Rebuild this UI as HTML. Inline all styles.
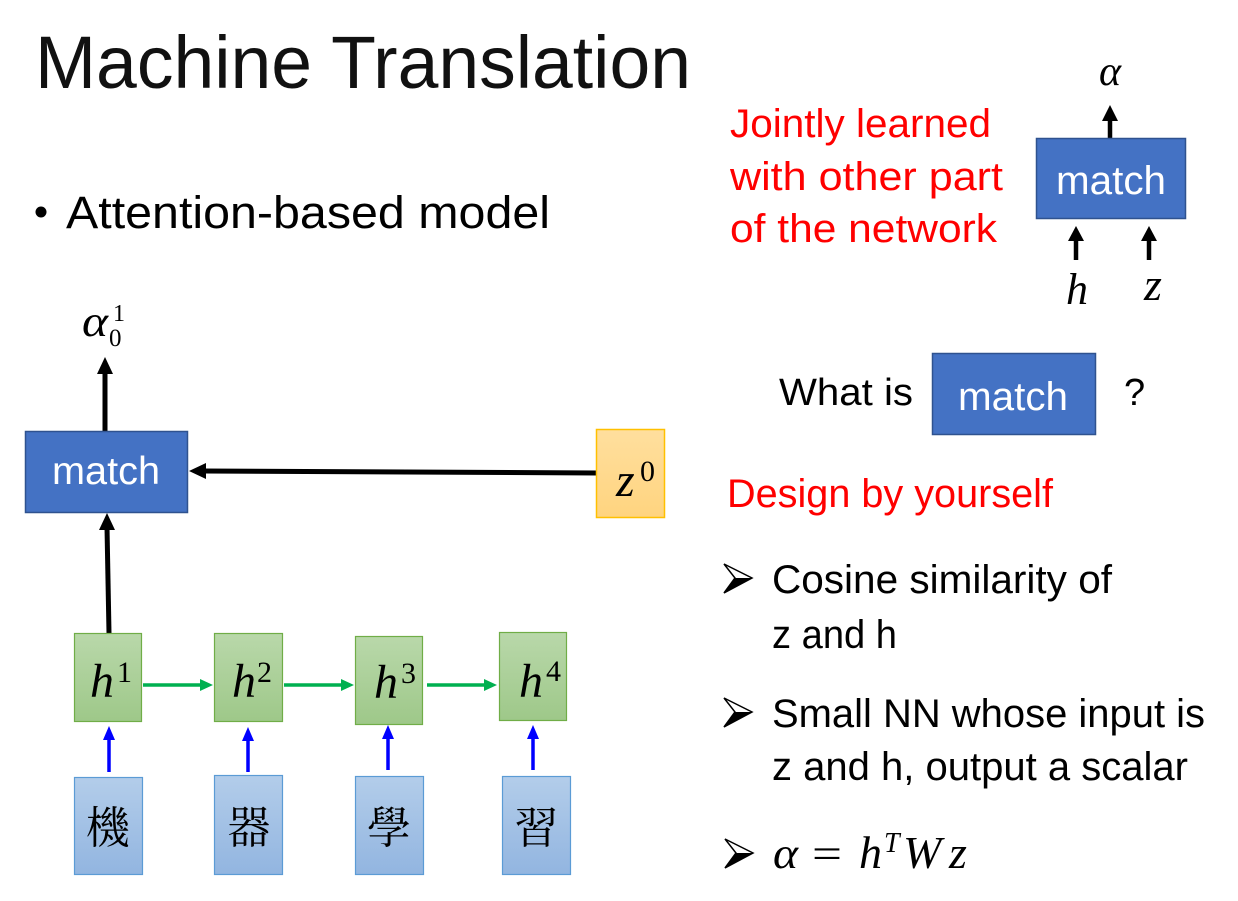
<!DOCTYPE html>
<html>
<head>
<meta charset="utf-8">
<style>
  html,body{margin:0;padding:0;background:#fff;}
  svg{display:block;}
  .sans{font-family:"Liberation Sans","Noto Sans CJK TC",sans-serif;}
  .math{font-family:"Liberation Serif","DejaVu Serif",serif;font-style:italic;}
  .num{font-family:"Liberation Serif","DejaVu Serif",serif;}
  .cjk{font-family:"Noto Serif CJK TC","Noto Serif CJK SC","Noto Sans CJK TC",serif;}
</style>
</head>
<body>
<svg width="1238" height="901" viewBox="0 0 1238 901" xmlns="http://www.w3.org/2000/svg">
  <defs>
    <linearGradient id="gG" x1="0" y1="0" x2="0" y2="1">
      <stop offset="0" stop-color="#b9d8aa"/>
      <stop offset="1" stop-color="#9ec889"/>
    </linearGradient>
    <linearGradient id="gB" x1="0" y1="0" x2="0" y2="1">
      <stop offset="0" stop-color="#b3cdea"/>
      <stop offset="1" stop-color="#92b5e0"/>
    </linearGradient>
    <linearGradient id="gO" x1="0" y1="0" x2="0" y2="1">
      <stop offset="0" stop-color="#ffdf9e"/>
      <stop offset="1" stop-color="#ffd47f"/>
    </linearGradient>
  </defs>

  <!-- Title -->
  <text class="sans" x="35" y="88" font-size="74" textLength="656" lengthAdjust="spacingAndGlyphs" fill="#111">Machine Translation</text>

  <!-- Bullet -->
  <circle cx="41" cy="212" r="5.5" fill="#000"/>
  <text class="sans" x="66" y="228" font-size="45" textLength="484" lengthAdjust="spacingAndGlyphs" fill="#000">Attention-based model</text>

  <!-- Red text top right -->
  <g class="sans" fill="#ff0000" font-size="40">
    <text x="730" y="137" textLength="261" lengthAdjust="spacingAndGlyphs">Jointly learned</text>
    <text x="730" y="190" textLength="273" lengthAdjust="spacingAndGlyphs">with other part</text>
    <text x="730" y="242" textLength="267" lengthAdjust="spacingAndGlyphs">of the network</text>
  </g>

  <!-- Top-right match diagram -->
  <text class="math" x="1110" y="85" font-size="42" text-anchor="middle" fill="#000">α</text>
  <line x1="1110" y1="138" x2="1110" y2="118" stroke="#000" stroke-width="4.5"/>
  <polygon points="1110,105 1102,121 1118,121" fill="#000"/>
  <rect x="1036.5" y="138.5" width="149" height="80" fill="#4472c4" stroke="#2f528f" stroke-width="1.5"/>
  <text class="sans" x="1111" y="194" font-size="40" text-anchor="middle" textLength="110" lengthAdjust="spacingAndGlyphs" fill="#fff">match</text>
  <line x1="1076" y1="260" x2="1076" y2="239" stroke="#000" stroke-width="4.5"/>
  <polygon points="1076,226 1068,241 1084,241" fill="#000"/>
  <line x1="1149" y1="260" x2="1149" y2="239" stroke="#000" stroke-width="4.5"/>
  <polygon points="1149,226 1141,241 1157,241" fill="#000"/>
  <text class="math" x="1077" y="304" font-size="44" text-anchor="middle" fill="#000">h</text>
  <text class="math" x="1153" y="300" font-size="46" text-anchor="middle" fill="#000">z</text>

  <!-- What is match ? -->
  <text class="sans" x="779" y="405" font-size="38" textLength="134" lengthAdjust="spacingAndGlyphs" fill="#000">What is</text>
  <rect x="932.5" y="353.5" width="163" height="81" fill="#4472c4" stroke="#2f528f" stroke-width="1.5"/>
  <text class="sans" x="1013" y="410" font-size="40" text-anchor="middle" textLength="110" lengthAdjust="spacingAndGlyphs" fill="#fff">match</text>
  <text class="sans" x="1124" y="405" font-size="38" fill="#000">?</text>

  <!-- Design by yourself -->
  <text class="sans" x="727" y="507" font-size="40" textLength="326" lengthAdjust="spacingAndGlyphs" fill="#ff0000">Design by yourself</text>

  <!-- Arrow bullets -->
  <g>
    <polygon points="724,564 752,578 724,593 735,578" fill="#fff" stroke="#000" stroke-width="1.5" stroke-linejoin="miter"/>
    <polygon points="735,578 752,578 724,593" fill="#000"/>
    <polygon points="724,698 752,712 724,727 735,712" fill="#fff" stroke="#000" stroke-width="1.5"/>
    <polygon points="735,712 752,712 724,727" fill="#000"/>
    <polygon points="725,839 753,853 725,868 736,853" fill="#fff" stroke="#000" stroke-width="1.5"/>
    <polygon points="736,853 753,853 725,868" fill="#000"/>
  </g>
  <g class="sans" fill="#000" font-size="40">
    <text x="772" y="593" textLength="340" lengthAdjust="spacingAndGlyphs">Cosine similarity of</text>
    <text x="772" y="648" textLength="125" lengthAdjust="spacingAndGlyphs">z and h</text>
    <text x="772" y="727" textLength="433" lengthAdjust="spacingAndGlyphs">Small NN whose input is</text>
    <text x="772" y="780" textLength="416" lengthAdjust="spacingAndGlyphs">z and h, output a scalar</text>
  </g>
  <!-- formula -->
  <text class="math" x="773" y="868" font-size="44" textLength="25" lengthAdjust="spacingAndGlyphs" fill="#000">α</text>
  <text class="num" x="812" y="868" font-size="42" textLength="30" lengthAdjust="spacingAndGlyphs" fill="#000">=</text>
  <text class="math" x="859" y="868" font-size="46" fill="#000">h</text>
  <text class="math" x="884" y="852" font-size="28" fill="#000">T</text>
  <text class="math" x="903" y="868" font-size="46" fill="#000">W</text>
  <text class="math" x="949" y="868" font-size="46" fill="#000">z</text>

  <!-- Left diagram -->
  <!-- alpha_0^1 -->
  <text class="math" x="82" y="336" font-size="44" textLength="26" lengthAdjust="spacingAndGlyphs" fill="#000">α</text>
  <text class="num" x="113" y="321" font-size="24" fill="#000">1</text>
  <text class="num" x="109" y="346" font-size="25" fill="#000">0</text>

  <line x1="105" y1="431" x2="105" y2="371" stroke="#000" stroke-width="5"/>
  <polygon points="105,357 97,374 113,374" fill="#000"/>

  <rect x="25.5" y="431.5" width="162" height="81" fill="#4472c4" stroke="#2f528f" stroke-width="1.5"/>
  <text class="sans" x="52" y="484" font-size="39" textLength="108" lengthAdjust="spacingAndGlyphs" fill="#fff">match</text>

  <!-- z0 arrow -->
  <line x1="597" y1="473" x2="203" y2="471" stroke="#000" stroke-width="5"/>
  <polygon points="189,471 206,463 206,479" fill="#000"/>

  <rect x="596.5" y="429.5" width="68" height="88" fill="url(#gO)" stroke="#ffc000" stroke-width="1.5"/>
  <text class="math" x="616" y="496" font-size="48" fill="#000">z</text>
  <text class="num" x="640" y="481" font-size="30" fill="#000">0</text>

  <!-- h1 to match -->
  <line x1="109" y1="633" x2="107" y2="527" stroke="#000" stroke-width="5"/>
  <polygon points="107,513 99,530 115,530" fill="#000"/>

  <!-- h boxes -->
  <rect x="74.5" y="633.5" width="67" height="88" fill="url(#gG)" stroke="#70ad47" stroke-width="1.2"/>
  <rect x="214.5" y="633.5" width="68" height="88" fill="url(#gG)" stroke="#70ad47" stroke-width="1.2"/>
  <rect x="355.5" y="636.5" width="67" height="88" fill="url(#gG)" stroke="#70ad47" stroke-width="1.2"/>
  <rect x="499.5" y="632.5" width="67" height="88" fill="url(#gG)" stroke="#70ad47" stroke-width="1.2"/>

  <g class="math" font-size="48" fill="#000">
    <text x="90" y="697">h</text>
    <text x="232" y="697">h</text>
    <text x="374" y="698">h</text>
    <text x="519" y="697">h</text>
  </g>
  <g class="num" font-size="30" fill="#000">
    <text x="117" y="682">1</text>
    <text x="257" y="682">2</text>
    <text x="401" y="683">3</text>
    <text x="546" y="681">4</text>
  </g>

  <!-- green arrows -->
  <g stroke="#00b050" stroke-width="3.5">
    <line x1="143" y1="685" x2="202" y2="685"/>
    <line x1="284" y1="685" x2="343" y2="685"/>
    <line x1="427" y1="685" x2="486" y2="685"/>
  </g>
  <g fill="#00b050">
    <polygon points="213,685 200,679 200,691"/>
    <polygon points="354,685 341,679 341,691"/>
    <polygon points="497,685 484,679 484,691"/>
  </g>

  <!-- blue arrows -->
  <g stroke="#0000ff" stroke-width="3.5">
    <line x1="109" y1="772" x2="109" y2="737"/>
    <line x1="248" y1="772" x2="248" y2="737"/>
    <line x1="388" y1="770" x2="388" y2="736"/>
    <line x1="533" y1="770" x2="533" y2="736"/>
  </g>
  <g fill="#0000ff">
    <polygon points="109,726 103,740 115,740"/>
    <polygon points="248,727 242,741 254,741"/>
    <polygon points="388,725 382,739 394,739"/>
    <polygon points="533,725 527,739 539,739"/>
  </g>

  <!-- char boxes -->
  <rect x="74.5" y="777.5" width="68" height="97" fill="url(#gB)" stroke="#5b9bd5" stroke-width="1.2"/>
  <rect x="214.5" y="775.5" width="68" height="99" fill="url(#gB)" stroke="#5b9bd5" stroke-width="1.2"/>
  <rect x="355.5" y="776.5" width="68" height="98" fill="url(#gB)" stroke="#5b9bd5" stroke-width="1.2"/>
  <rect x="502.5" y="776.5" width="68" height="98" fill="url(#gB)" stroke="#5b9bd5" stroke-width="1.2"/>

  <g class="cjk" font-size="44" fill="#000" text-anchor="middle">
    <text x="108" y="843">機</text>
    <text x="249" y="843">器</text>
    <text x="389" y="843">學</text>
    <text x="536" y="843">習</text>
  </g>
</svg>
</body>
</html>
